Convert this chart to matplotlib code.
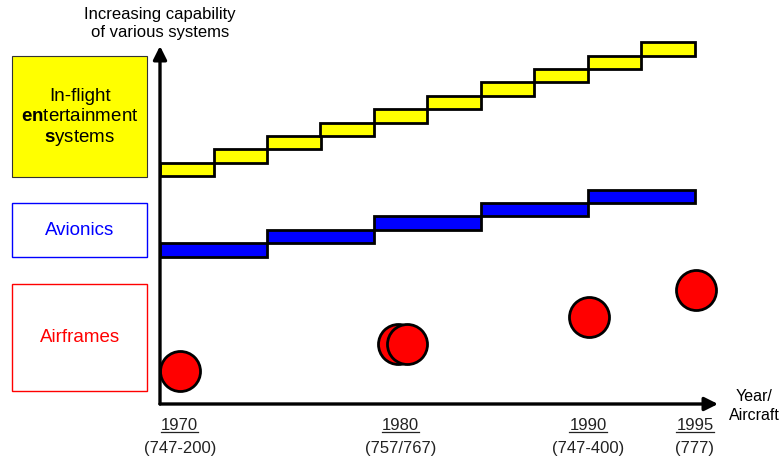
# import libraries
import matplotlib.pyplot as plt
from matplotlib.patches import Rectangle
from matplotlib.lines import Line2D

plt.rcParams['font.family'] = ['Liberation Sans', 'DejaVu Sans']
plt.rcParams['mathtext.fontset'] = 'custom'
plt.rcParams['mathtext.rm'] = 'Liberation Sans'
plt.rcParams['mathtext.bf'] = 'Liberation Sans:bold'

# Data (x in "step" units, y in capability levels)
ife_x = [0, 1, 2, 3, 4, 5, 6, 7, 8, 9]
ife_level = [17, 18, 19, 20, 21, 22, 23, 24, 25, 26]
avionics_x = [0, 2, 4, 6, 8]
avionics_level = [11, 12, 13, 14, 15]
airframe_x = [0.37, 4.45, 4.62, 8.02, 10.02]
airframe_y = [2.5, 4.5, 4.5, 6.5, 8.5]
tick_pos = [0.37, 4.5, 8.0, 10.0]
tick_year = ['1970', '1980', '1990', '1995']
tick_aircraft = ['(747-200)', '(757/767)', '(747-400)', '(777)']

W, H = 782, 460
fig = plt.figure(figsize=(W / 100, H / 100), dpi=100)
ax = fig.add_axes([160 / W, 55 / H, 558 / W, 358 / H])
ax.set_xlim(0, 558 / 53.5)
ax.set_ylim(0, 358 / 13.4)
ax.axis('off')

# step bars
for b in ax.bar(ife_x, 1, width=1, bottom=ife_level, align='edge',
                color='#ffff00', edgecolor='black', linewidth=2, zorder=3):
    b.set_clip_on(False)
for b in ax.bar(avionics_x, 1, width=2, bottom=avionics_level, align='edge',
                color='#0000ff', edgecolor='black', linewidth=2, zorder=3):
    b.set_clip_on(False)

# airframes
ax.scatter(airframe_x, airframe_y, s=830, color='#ff0000', edgecolor='black',
           linewidth=2, zorder=4, clip_on=False)

# axes arrows
arrow = dict(arrowstyle='-|>', lw=2.4, color='black', mutation_scale=20,
             shrinkA=0, shrinkB=0)
ax.annotate('', xy=(1, 0), xytext=(0, 0), xycoords='axes fraction',
            textcoords='axes fraction', arrowprops=arrow, zorder=5)
ax.annotate('', xy=(0, 1), xytext=(0, 0), xycoords='axes fraction',
            textcoords='axes fraction', arrowprops=arrow, zorder=5)

# x tick labels (years underlined)
tr = ax.get_xaxis_transform()
year_texts = []
for xp, yr, ac in zip(tick_pos, tick_year, tick_aircraft):
    year_texts.append(ax.text(xp, -21 / 358, yr, transform=tr, ha='center',
                              va='center', fontsize=12, color='#222222'))
    ax.text(xp, -44 / 358, ac, transform=tr, ha='center', va='center',
            fontsize=12, color='#222222')

fig.text(754 / W, 1 - 406 / H, 'Year/\nAircraft', ha='center', va='center',
         fontsize=11.5, linespacing=1.3)
fig.text(160 / W, 1 - 23.5 / H, 'Increasing capability\nof various systems',
         ha='center', va='center', fontsize=12, linespacing=1.25)

# left boxes
def box(y0, y1, face, edge, lw):
    fig.patches.append(Rectangle((12 / W, 1 - y1 / H), 135 / W, (y1 - y0) / H,
                                 transform=fig.transFigure, facecolor=face,
                                 edgecolor=edge, linewidth=lw))

box(57, 178, '#ffff00', '#333333', 0.8)
box(204, 258, 'white', '#0000ff', 1.0)
box(285, 392, 'white', '#ff0000', 1.0)

fig.text(80 / W, 1 - 118 / H,
         'In-flight\n$\\mathbf{en}$tertainment\n$\\mathbf{s}$ystems',
         ha='center', va='center', fontsize=13.5, linespacing=1.2)
fig.text(80 / W, 1 - 231 / H, 'Avionics', ha='center', va='center',
         fontsize=13.5, color='#0000ff')
fig.text(80 / W, 1 - 338 / H, 'Airframes', ha='center', va='center',
         fontsize=13.5, color='#ff0000')

# underline the years
fig.canvas.draw()
r = fig.canvas.get_renderer()
for t in year_texts:
    bb = t.get_window_extent(r)
    yl = (bb.y0 + 1) / H
    fig.lines.append(Line2D([bb.x0 / W, bb.x1 / W], [yl, yl],
                            transform=fig.transFigure, color='#222222', lw=0.9))

plt.savefig('out.png', dpi=100)
